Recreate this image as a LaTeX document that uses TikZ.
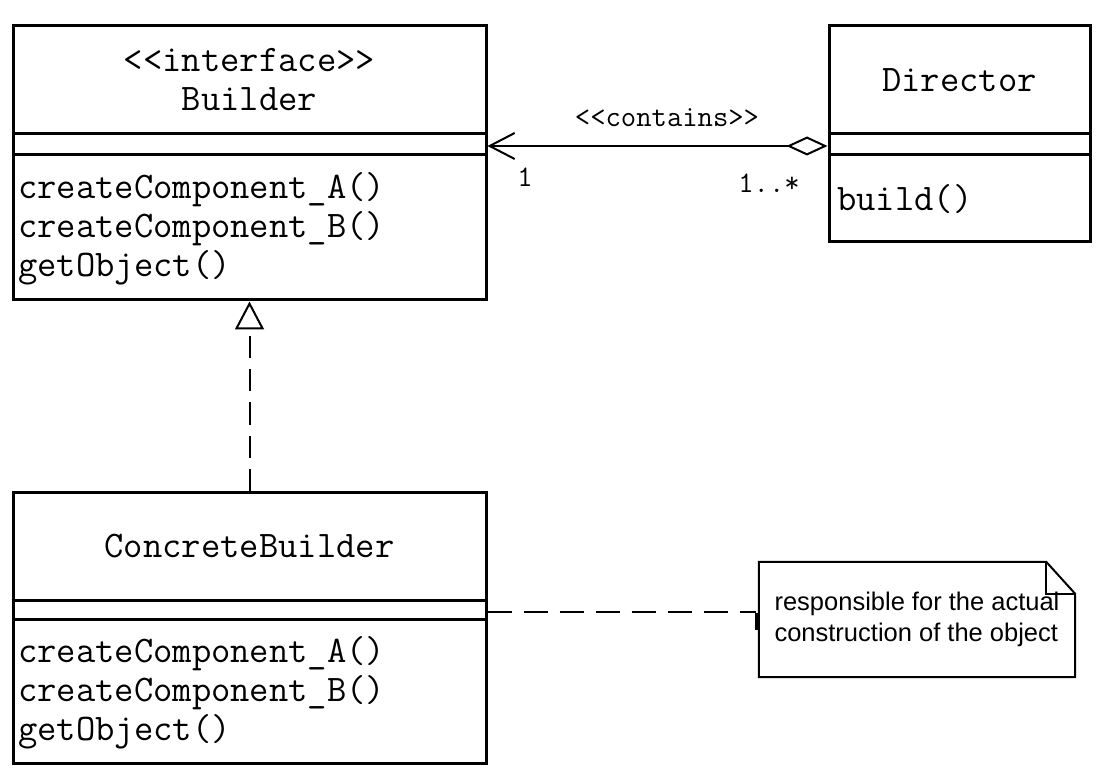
\documentclass[tikz,border=0pt]{standalone}
\usepackage{fontspec}
\usetikzlibrary{arrows.meta}
\newfontfamily\arialfont{Liberation Sans}
\begin{document}
\begin{tikzpicture}[x=1pt,y=-1pt,
  classbox/.style={draw, line width=3pt, inner sep=0pt},
  divider/.style={line width=3pt},
  mono/.style={font=\ttfamily\fontsize{37.5}{39}\selectfont, inner sep=0pt},
  smallmono/.style={font=\ttfamily\fontsize{29.8}{30}\selectfont, inner sep=0pt},
  assoc/.style={line width=2pt, {Straight Barb[length=25pt,width=26pt,line width=2pt]}-{Diamond[open,fill=white,length=41pt,width=19pt,line width=2pt]}},
  realize/.style={line width=2pt, dash pattern=on 22pt off 11pt, -{Triangle[open,fill=white,length=28pt,width=29pt,line width=2pt]}},
  notelink/.style={line width=2.5pt, dash pattern=on 24pt off 12pt},
  notebox/.style={inner sep=0pt, align=left, font=\arialfont\fontsize{25.5}{31}\selectfont}
]
\useasboundingbox (0,0) rectangle (1103,775);

% Builder
\node[classbox, minimum width=473pt, minimum height=274pt] (builder) at (249.5,163) {};
\draw[divider] (builder.west |- 0,134) -- (builder.east |- 0,134);
\draw[divider] (builder.west |- 0,155) -- (builder.east |- 0,155);
\node[mono, align=center] (bname) at (249.5,80) {<<interface>>\\Builder};
\node[mono, align=left, anchor=west] (bops) at (18,229) {createComponent\_A()\\createComponent\_B()\\getObject()};

% Director
\node[classbox, minimum width=261pt, minimum height=216pt] (director) at (959.5,134) {};
\draw[divider] (director.west |- 0,134) -- (director.east |- 0,134);
\draw[divider] (director.west |- 0,155) -- (director.east |- 0,155);
\node[mono] (dname) at (959.5,80) {Director};
\node[mono, anchor=west] (dops) at (837,199) {build()};

% ConcreteBuilder
\node[classbox, minimum width=473pt, minimum height=271pt] (concrete) at (249.5,627.5) {};
\draw[divider] (concrete.west |- 0,600) -- (concrete.east |- 0,600);
\draw[divider] (concrete.west |- 0,619) -- (concrete.east |- 0,619);
\node[mono] (cname) at (249.5,546) {ConcreteBuilder};
\node[mono, align=left, anchor=west] (cops) at (18,693) {createComponent\_A()\\createComponent\_B()\\getObject()};

% Note
\node[notebox, minimum width=316pt, minimum height=115pt] (note) at (917,619.5) {responsible for the actual\\construction of the object};
\draw[line width=2pt, line join=miter]
  (note.north west) -- ([xshift=-29pt]note.north east) -- ([yshift=-32pt]note.north east)
  -- (note.south east) -- (note.south west) -- cycle;
\draw[line width=2pt] ([xshift=-29pt]note.north east) -- ([xshift=-29pt,yshift=-32pt]note.north east) -- ([yshift=-32pt]note.north east);

% Association Director -> Builder
\coordinate (assocy) at (0,146);
\draw[assoc] (builder.east |- assocy) -- (director.west |- assocy);
\node[smallmono] (clabel) at (667,118) {<<contains>>};
\node[smallmono] (m1) at (525,177) {1};
\node[smallmono] (m2) at (769,183) {1..*};

% Realization ConcreteBuilder -> Builder
\draw[realize] (concrete.north) -- (builder.south);

% Note link
\coordinate (notey) at (0,612);
\draw[notelink] (concrete.east |- notey) -- ([xshift=-3pt]note.west |- notey);
\draw[line width=3pt] ([xshift=-2pt]note.west |- 0,613) -- ([xshift=-2pt]note.west |- 0,630);
\end{tikzpicture}
\end{document}
